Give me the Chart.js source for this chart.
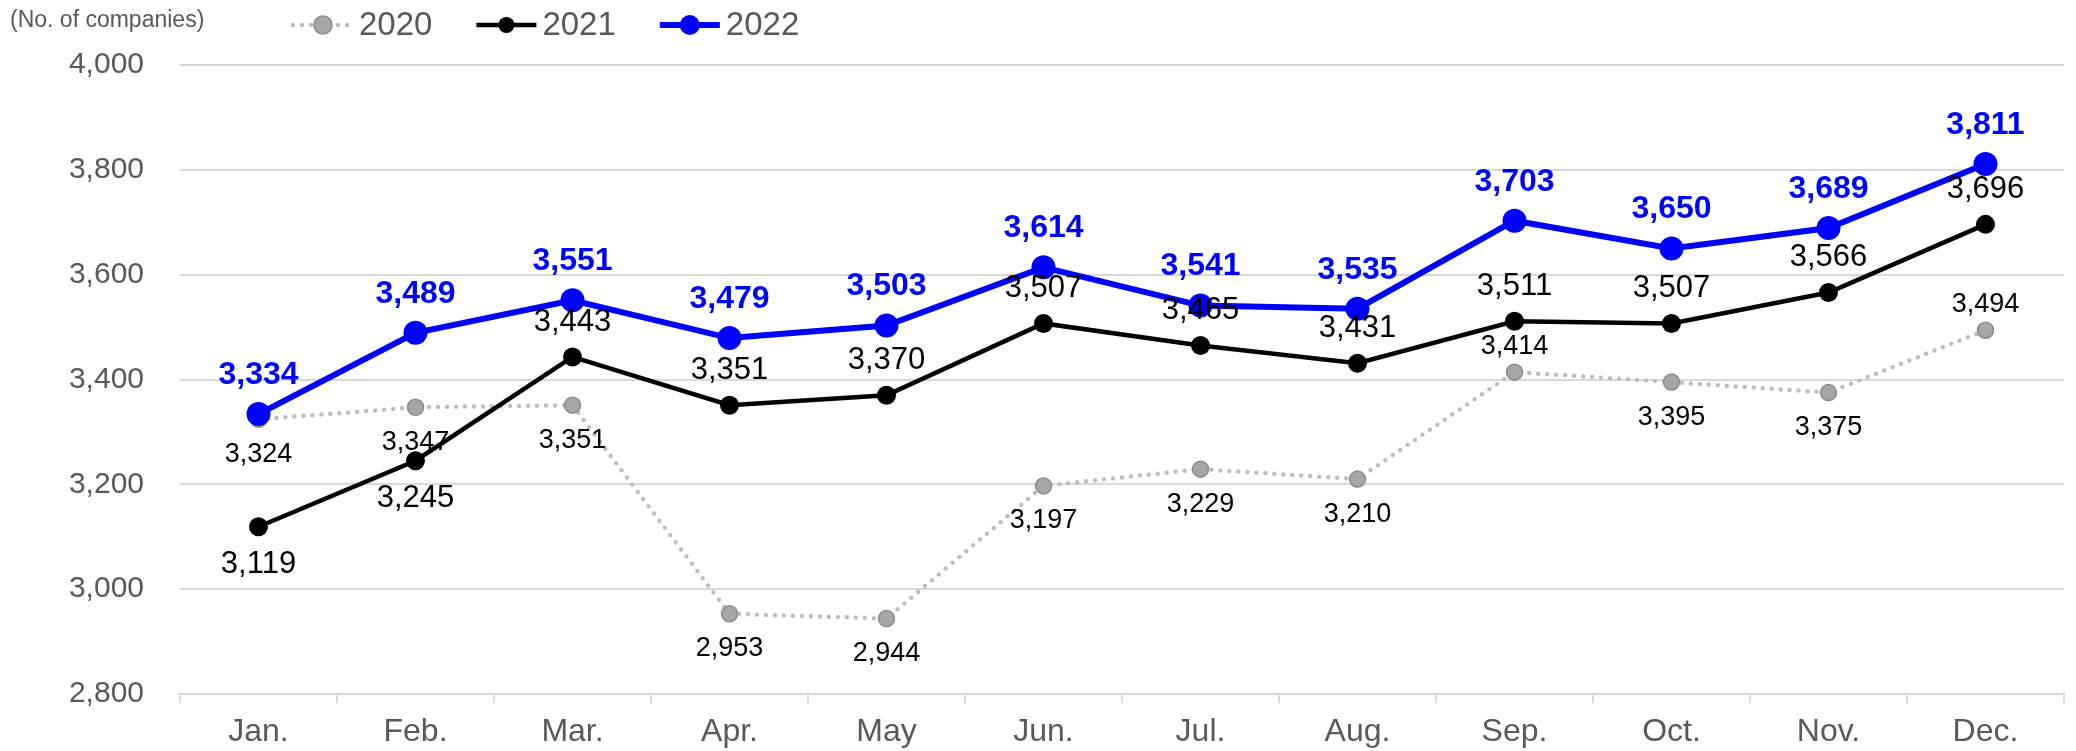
<!DOCTYPE html>
<html>
<head>
<meta charset="utf-8">
<script src="https://cdn.jsdelivr.net/npm/chart.js@4/dist/chart.umd.min.js"></script>
<style>
  html, body { margin: 0; padding: 0; background: #fff; }
  canvas { display: block; }
</style>
</head>
<body>
<canvas id="myChart" width="2076" height="751"></canvas>
<script>
const FONT = "Arial, 'Liberation Sans', sans-serif";

const months = ['Jan.', 'Feb.', 'Mar.', 'Apr.', 'May', 'Jun.', 'Jul.', 'Aug.', 'Sep.', 'Oct.', 'Nov.', 'Dec.'];
const values2020 = [3324, 3347, 3351, 2953, 2944, 3197, 3229, 3210, 3414, 3395, 3375, 3494];
const values2021 = [3119, 3245, 3443, 3351, 3370, 3507, 3465, 3431, 3511, 3507, 3566, 3696];
const values2022 = [3334, 3489, 3551, 3479, 3503, 3614, 3541, 3535, 3703, 3650, 3689, 3811];

// where each value label sits relative to its point
const labelSide2020 = ['below', 'below', 'below', 'below', 'below', 'below', 'below', 'below', 'above', 'below', 'below', 'above'];
const labelSide2021 = ['below', 'below', 'above', 'above', 'above', 'above', 'above', 'above', 'above', 'above', 'above', 'above'];
const labelSide2022 = months.map(() => 'above');

const fmt = v => v.toLocaleString('en-US');

// value labels next to each point
const valueLabels = {
  id: 'valueLabels',
  afterDatasetsDraw(chart) {
    const ctx = chart.ctx;
    chart.data.datasets.forEach((ds, i) => {
      const meta = chart.getDatasetMeta(i);
      const lab = ds.valueLabel;
      ctx.save();
      ctx.font = lab.font;
      ctx.fillStyle = lab.color;
      ctx.textAlign = 'center';
      ctx.textBaseline = 'middle';
      meta.data.forEach((pt, j) => {
        const above = lab.side[j] === 'above';
        const dy = above ? -lab.above : lab.below;
        ctx.fillText(fmt(ds.data[j]), pt.x, pt.y + dy);
      });
      ctx.restore();
    });
  }
};

// unit note and legend row at the top
const header = {
  id: 'header',
  afterDraw(chart) {
    const ctx = chart.ctx;
    ctx.save();
    ctx.fillStyle = '#595959';
    ctx.textBaseline = 'middle';
    ctx.font = '23px ' + FONT;
    ctx.fillText('(No. of companies)', 10, 21);

    let x = 293;
    const y = 25;
    ctx.font = '33px ' + FONT;
    chart.data.datasets.forEach(ds => {
      const len = 60;
      ctx.save();
      ctx.strokeStyle = ds.borderColor;
      ctx.lineWidth = ds.borderWidth;
      ctx.lineCap = ds.borderCapStyle || 'butt';
      ctx.setLineDash(ds.borderDash || []);
      ctx.beginPath();
      ctx.moveTo(x, y);
      ctx.lineTo(x + len, y);
      ctx.stroke();
      ctx.setLineDash([]);
      ctx.beginPath();
      ctx.arc(x + len / 2, y, ds.legendRadius, 0, Math.PI * 2);
      ctx.fillStyle = ds.pointBackgroundColor;
      ctx.fill();
      if (ds.pointBorderWidth) {
        ctx.lineWidth = ds.pointBorderWidth;
        ctx.strokeStyle = ds.pointBorderColor;
        ctx.stroke();
      }
      ctx.restore();
      const tx = x + len + 6;
      ctx.fillStyle = '#595959';
      ctx.fillText(ds.label, tx, y + 1);
      x = tx + ctx.measureText(ds.label).width + 44;
    });
    ctx.restore();
  }
};

const data = {
  labels: months,
  datasets: [
    {
      label: '2020',
      data: values2020,
      order: 3,
      borderColor: '#bfbfbf',
      borderWidth: 4.5,
      borderDash: [0, 9],
      borderCapStyle: 'round',
      pointRadius: 8,
      pointBackgroundColor: '#a6a6a6',
      pointBorderColor: '#8c8c8c',
      pointBorderWidth: 1.5,
      legendRadius: 9,
      valueLabel: { font: '27px ' + FONT, color: '#000', side: labelSide2020, above: 26, below: 35 }
    },
    {
      label: '2021',
      data: values2021,
      order: 2,
      borderColor: '#000000',
      borderWidth: 4.5,
      pointRadius: 9.5,
      pointBackgroundColor: '#000000',
      pointBorderWidth: 0,
      legendRadius: 8,
      valueLabel: { font: '31px ' + FONT, color: '#000', side: labelSide2021, above: 35, below: 38 }
    },
    {
      label: '2022',
      data: values2022,
      order: 1,
      borderColor: '#0000ff',
      borderWidth: 6,
      pointRadius: 12,
      pointBackgroundColor: '#0000ff',
      pointBorderWidth: 0,
      legendRadius: 10,
      valueLabel: { font: 'bold 32px ' + FONT, color: '#0000ff', side: labelSide2022, above: 39, below: 39 }
    }
  ]
};

const config = {
  type: 'line',
  data: data,
  options: {
    responsive: false,
    devicePixelRatio: 1,
    animation: false,
    layout: { padding: { top: 65, left: 0, right: 12, bottom: 0 } },
    elements: { line: { tension: 0 } },
    plugins: {
      legend: { display: false },
      tooltip: { enabled: false }
    },
    scales: {
      x: {
        offset: true,
        afterFit: s => { s.height = 57; },
        grid: {
          offset: true,
          drawOnChartArea: false,
          drawTicks: true,
          tickLength: 9,
          color: '#d9d9d9',
          lineWidth: 2
        },
        border: { display: true, color: '#d9d9d9', width: 2 },
        ticks: {
          color: '#595959',
          font: { family: FONT, size: 32 },
          padding: 10,
          maxRotation: 0
        }
      },
      y: {
        min: 2800,
        max: 4000,
        afterFit: s => { s.width = 180; },
        grid: { color: '#d9d9d9', lineWidth: 2, drawTicks: false },
        border: { display: false },
        ticks: {
          stepSize: 200,
          color: '#595959',
          font: { family: FONT, size: 30 },
          padding: 36,
          callback: v => fmt(v)
        }
      }
    }
  },
  plugins: [valueLabels, header]
};

const myChart = new Chart(document.getElementById('myChart'), config);
</script>
</body>
</html>
